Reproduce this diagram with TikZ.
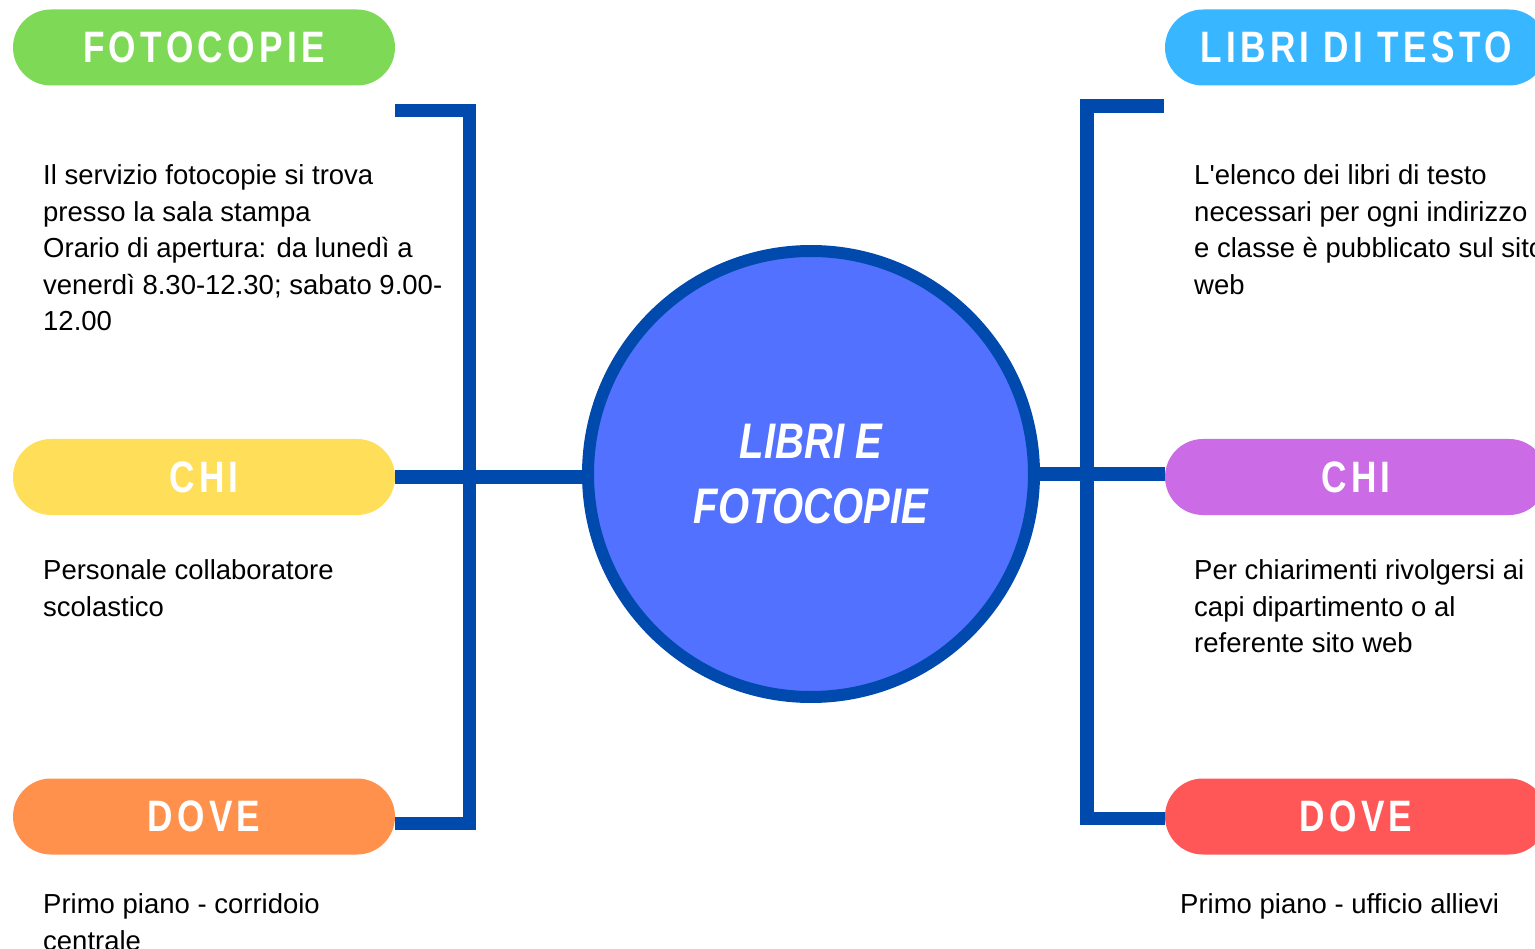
\documentclass[tikz,border=0pt]{standalone}
\usepackage{fontspec}
\setmainfont{Liberation Sans}[Ligatures=TeXOff]
\newfontfamily\headfont[FakeStretch=0.8,LetterSpace=10]{Liberation Sans}
\newfontfamily\hubfont[FakeStretch=0.8]{Liberation Sans}
\usetikzlibrary{positioning}
\definecolor{pillgreen}{HTML}{7ED957}
\definecolor{pillblue}{HTML}{38B6FF}
\definecolor{pillyellow}{HTML}{FFDE59}
\definecolor{pillpurple}{HTML}{CB6CE6}
\definecolor{pillorange}{HTML}{FF914D}
\definecolor{pillred}{HTML}{FF5757}
\definecolor{linkblue}{HTML}{004AAD}
\definecolor{hubblue}{HTML}{5271FF}

\begin{document}
\begin{tikzpicture}[x=1pt, y=-1pt,
  pill/.style={rectangle, rounded corners=38pt, minimum width=382pt, minimum height=76pt, inner sep=0pt, text=white, font=\headfont\bfseries\fontsize{44}{44}\selectfont},
  info/.style={anchor=north west, align=left, inner sep=0pt, font=\fontsize{27.5}{36.5}\selectfont},
  link/.style={draw=linkblue, line width=13.5pt}]
	\useasboundingbox (0,0) rectangle (1535,949);
	% title pills
	\node[pill, fill=pillgreen] (fotocopie) at (204,47.5) {FOTOCOPIE};
	\node[pill, fill=pillyellow] (chiL) at (204,477) {CHI};
	\node[pill, fill=pillorange] (doveL) at (204,816.5) {DOVE};
	\node[pill, fill=pillblue] (libri) at (1356,47.5) {LIBRI DI TESTO};
	\node[pill, fill=pillpurple] (chiR) at (1356,477) {CHI};
	\node[pill, fill=pillred] (doveR) at (1356,816.5) {DOVE};
	% centre
	\node[circle, draw=linkblue, line width=12pt, fill=hubblue, minimum size=446pt, inner sep=0pt, align=center, text=white, font=\hubfont\bfseries\itshape\fontsize{50}{65}\selectfont] (hub) at (811,474) {LIBRI E\\FOTOCOPIE};
	% brackets
	\coordinate (lTop) at (395,110.5);
	\coordinate (lBot) at (395,823.5);
	\coordinate (lSpine) at (469.5,477);
	\coordinate (rTop) at (1164,106);
	\coordinate (rBot) at (1165,818.5);
	\coordinate (rSpine) at (1087,474);
	\draw[link] (lTop) -- (lTop -| lSpine) -- (lBot -| lSpine) -- (lBot);
	\draw[link] (rTop) -- (rTop -| rSpine) -- (rBot -| rSpine) -- (rBot);
	\draw[link] (chiL.east) -- (chiL.east -| hub.west);
	\draw[link] (hub.east) -- (hub.east -| chiR.west);
	% texts
	\node[info] (fotoInfo) at (43,164.5) {Il servizio fotocopie si trova\\presso la sala stampa\\Orario di apertura: da lunedì a\\venerdì 8.30-12.30; sabato 9.00-\\12.00};
	\node[info] (chiInfoL) at (43,559.5) {Personale collaboratore\\scolastico};
	\node[info] (doveInfoL) at (43,893.5) {Primo piano - corridoio\\centrale};
	\node[info] (libriInfo) at (1194,164.5) {L'elenco dei libri di testo\\necessari per ogni indirizzo\\e classe è pubblicato sul sito\\web};
	\node[info] (chiInfoR) at (1194,559.5) {Per chiarimenti rivolgersi ai\\capi dipartimento o al\\referente sito web};
	\node[info] (doveInfoR) at (1180,893.5) {Primo piano - ufficio allievi};
\end{tikzpicture}
\end{document}
